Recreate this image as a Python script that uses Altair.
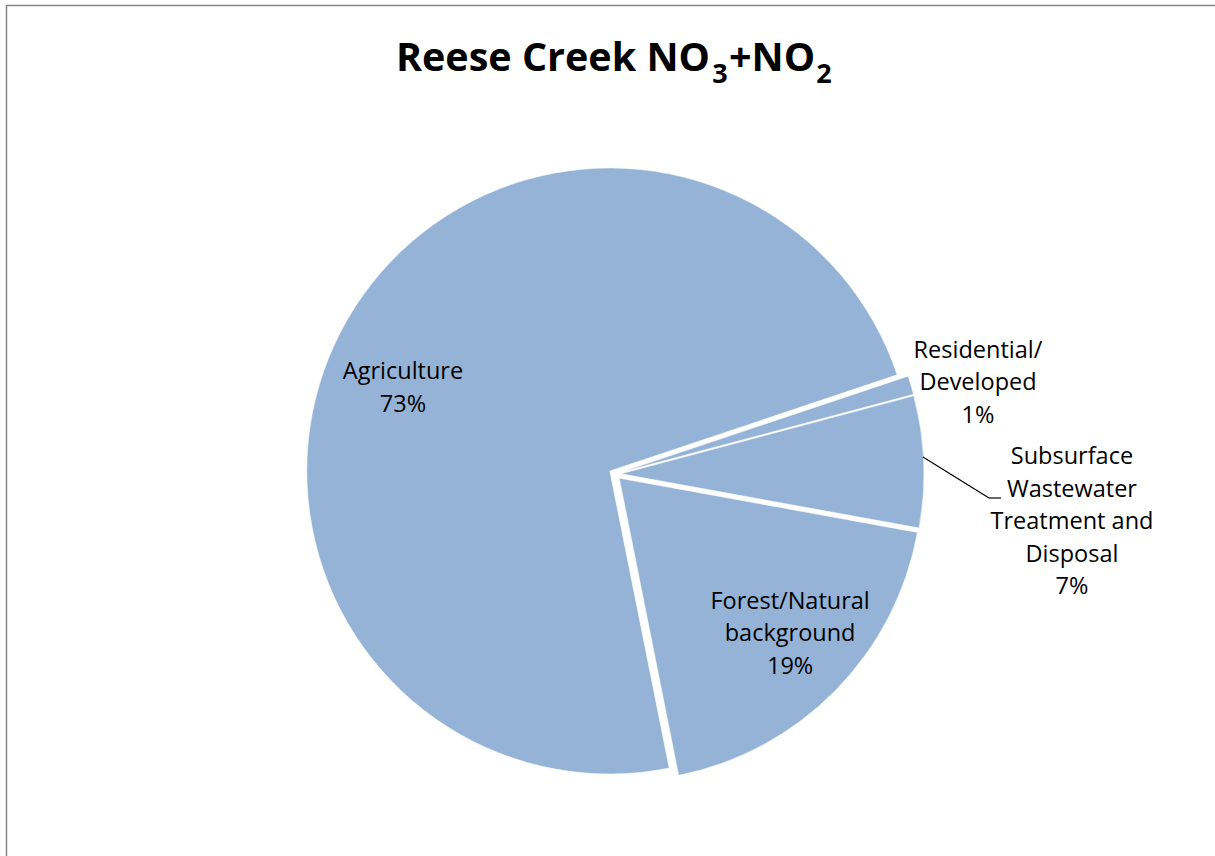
import math
import altair as alt
import pandas as pd

# ---------------- data ----------------
categories = ["Agriculture", "Residential/Developed", "Subsurface Wastewater Treatment and Disposal", "Forest/Natural background"]
label_lines = [
    ["Agriculture"],
    ["Residential/", "Developed"],
    ["Subsurface", "Wastewater", "Treatment and", "Disposal"],
    ["Forest/Natural", "background"],
]
shares = [73, 1, 7, 19]

# ---------------- layout / style ----------------
W, H = 1215, 856
CX, CY, R = 615, 474, 303
START = math.radians(168.7)
explode = [6, 6, 6, 6]
label_angle_deg = [291.96, 75.93, 96.0, 132.5]
label_radius = [228.6, 374.2, 459.5, 237.5]
LH = 32.5
FILL = "#95B3D7"
FONT = "Open Sans"

order = list(range(len(categories)))
pie_df = pd.DataFrame({"category": categories, "value": shares, "order": order, "explode": explode})

pie = (
    alt.Chart(pie_df)
    .transform_window(cum="sum(value)", sort=[alt.SortField("order")], frame=[None, 0])
    .transform_joinaggregate(total="sum(value)")
    .transform_calculate(
        t0=f"{START} + 2*PI*(datum.cum - datum.value)/datum.total",
        t1=f"{START} + 2*PI*datum.cum/datum.total",
    )
    .transform_calculate(mid="(datum.t0 + datum.t1)/2")
    .transform_calculate(
        px=f"{CX} + datum.explode*sin(datum.mid)",
        py=f"{CY} - datum.explode*cos(datum.mid)",
    )
    .mark_arc(outerRadius=R, innerRadius=0, fill=FILL, stroke="white", strokeWidth=0.5)
    .encode(
        theta=alt.Theta("t0:Q", scale=None),
        theta2=alt.Theta2("t1:Q"),
        x=alt.X("px:Q", scale=None, axis=None),
        y=alt.Y("py:Q", scale=None, axis=None),
    )
)

lab_df = pd.DataFrame({
    "label": [lines + [f"{v}%"] for lines, v in zip(label_lines, shares)],
    "nlines": [len(lines) + 1 for lines in label_lines],
    "ang": label_angle_deg,
    "rad": label_radius,
})
labels = (
    alt.Chart(lab_df)
    .transform_calculate(
        lx=f"{CX} + datum.rad*sin(datum.ang*PI/180)",
        ly=f"{CY} - datum.rad*cos(datum.ang*PI/180) - (datum.nlines - 1)*{LH}/2",
    )
    .mark_text(font=FONT, fontSize=23.5, lineHeight=LH, align="center", baseline="middle", color="black")
    .encode(
        x=alt.X("lx:Q", scale=None, axis=None),
        y=alt.Y("ly:Q", scale=None, axis=None),
        text="label",
    )
)

# leader line for the Subsurface label
one = pd.DataFrame({"a": [0]})
leader1 = alt.Chart(one).mark_rule(color="black", strokeWidth=1.2).encode(
    x=alt.value(923), y=alt.value(457), x2=alt.value(989), y2=alt.value(498))
leader2 = alt.Chart(one).mark_rule(color="black", strokeWidth=1.2).encode(
    x=alt.value(989), y=alt.value(498), x2=alt.value(1001), y2=alt.value(498))

# border of chart area
border = alt.Chart(one).mark_rect(fill=None, stroke="#868686", strokeWidth=1.5).encode(
    x=alt.value(6.5), y=alt.value(5.5), x2=alt.value(W + 50), y2=alt.value(H + 50))

# title pieces: "Reese Creek NO3+NO2" with real subscripts
def tpiece(txt, x, y, size, align):
    return alt.Chart(one).mark_text(
        text=txt, font=FONT, fontSize=size, fontWeight="bold", align=align, baseline="alphabetic", color="black"
    ).encode(x=alt.value(x), y=alt.value(y))

title = (
    tpiece("Reese Creek NO", 710, 71, 39.5, "right")
    + tpiece("3", 720, 83, 27, "center")
    + tpiece("+NO", 729, 71, 39.5, "left")
    + tpiece("2", 824, 83, 27, "center")
)

chart = (
    alt.layer(border, pie, leader1, leader2, labels, title)
    .properties(width=W, height=H, autosize=alt.AutoSizeParams(type="none"), padding=0, background="white")
    .configure_view(stroke=None)
)

chart.save("out.html", embed_options={"renderer": "svg", "actions": False})
